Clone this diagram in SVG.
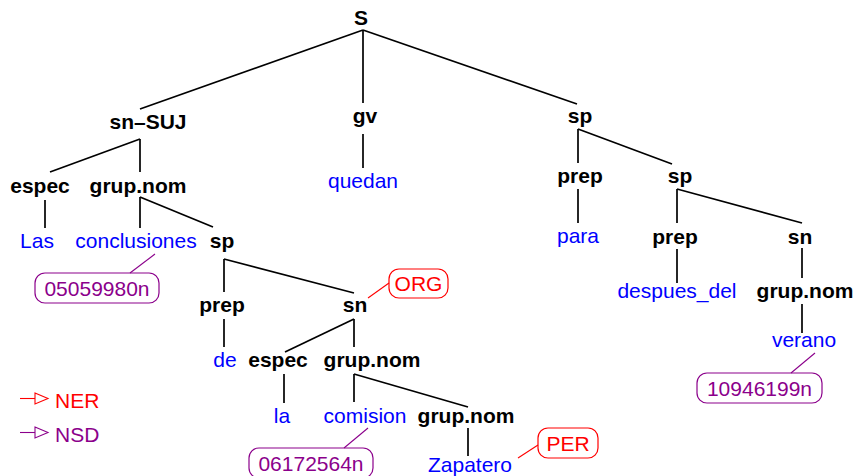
<svg xmlns="http://www.w3.org/2000/svg" width="856" height="476" viewBox="0 0 856 476">
<style>
text{font-family:"Liberation Sans",Arial,sans-serif;font-size:21px;text-anchor:middle}
.nt{font-weight:bold;fill:#000}
.w{fill:#0000ff}
.ner{fill:#ff0000}
.nsd{fill:#8b008b}
.tree line{stroke:#000;stroke-width:1.7}
.rl{stroke:#ff0000;stroke-width:1.1}
.pl{stroke:#8b008b;stroke-width:1.1}
.rb{fill:none;stroke:#ff0000;stroke-width:1.2}
.pb{fill:none;stroke:#8b008b;stroke-width:1.2}
</style>
<rect width="856" height="476" fill="#fff"/>
<g id="connectors">
<g class="tree">
<line x1="363" y1="30" x2="140" y2="109"/>
<line x1="363" y1="30" x2="363" y2="103"/>
<line x1="363" y1="30" x2="577" y2="104"/>
<line x1="140" y1="139" x2="50" y2="172"/>
<line x1="140" y1="139" x2="140" y2="172"/>
<line x1="363" y1="134" x2="363" y2="168"/>
<line x1="578" y1="129" x2="578" y2="163"/>
<line x1="578" y1="129" x2="672" y2="164"/>
<line x1="45" y1="200" x2="45" y2="228"/>
<line x1="140" y1="197" x2="140" y2="228"/>
<line x1="140" y1="197" x2="213" y2="227"/>
<line x1="578" y1="189" x2="578" y2="223"/>
<line x1="677" y1="189" x2="677" y2="223"/>
<line x1="677" y1="189" x2="802" y2="223"/>
<line x1="224" y1="259" x2="224" y2="292"/>
<line x1="224" y1="259" x2="354" y2="293"/>
<line x1="677" y1="249" x2="677" y2="283"/>
<line x1="802" y1="248" x2="802" y2="278"/>
<line x1="224" y1="319" x2="224" y2="347"/>
<line x1="354" y1="319" x2="285" y2="352"/>
<line x1="354" y1="319" x2="354" y2="347"/>
<line x1="802" y1="304" x2="802" y2="333"/>
<line x1="284" y1="374" x2="284" y2="403"/>
<line x1="354" y1="374" x2="354" y2="402"/>
<line x1="354" y1="374" x2="468" y2="407"/>
<line x1="468" y1="428" x2="468" y2="456"/>
</g>
<line class="pl" x1="155" y1="254" x2="130" y2="273"/>
<line class="rl" x1="368" y1="298" x2="389" y2="283"/>
<line class="pl" x1="368" y1="428" x2="344" y2="448"/>
<line class="pl" x1="815" y1="353" x2="791" y2="373"/>
<line class="rl" x1="518" y1="458" x2="538" y2="445"/>
</g>
<g id="n_S"><text class="nt" x="361" y="25">S</text></g>
<g id="n_snSUJ"><text class="nt" x="148" y="129">sn–SUJ</text></g>
<g id="n_gv"><text class="nt" x="365" y="123">gv</text></g>
<g id="n_sp1"><text class="nt" x="580" y="123">sp</text></g>
<g id="n_espec1"><text class="nt" x="40" y="193">espec</text></g>
<g id="n_grupnom1"><text class="nt" x="138" y="193">grup.nom</text></g>
<g id="n_quedan"><text class="w" x="363" y="188">quedan</text></g>
<g id="n_prep1"><text class="nt" x="580" y="183">prep</text></g>
<g id="n_sp2"><text class="nt" x="680" y="183">sp</text></g>
<g id="n_Las"><text class="w" x="37" y="248">Las</text></g>
<g id="n_conclusiones"><text class="w" x="136" y="248">conclusiones</text></g>
<g id="n_sp3"><text class="nt" x="222" y="248">sp</text></g>
<g id="n_para"><text class="w" x="578" y="243">para</text></g>
<g id="n_prep2"><text class="nt" x="675" y="244">prep</text></g>
<g id="n_sn1"><text class="nt" x="800" y="244">sn</text></g>
<g id="n_wn1"><rect class="pb" x="35" y="273" width="124" height="30" rx="10"/><text class="nsd" x="97" y="296">05059980n</text></g>
<g id="n_prep3"><text class="nt" x="222" y="312">prep</text></g>
<g id="n_sn2"><text class="nt" x="355" y="312">sn</text></g>
<g id="n_ORG"><rect class="rb" x="389" y="269" width="59" height="29" rx="10"/><text class="ner" x="418.5" y="291">ORG</text></g>
<g id="n_despues"><text class="w" x="677" y="298">despues_del</text></g>
<g id="n_grupnom2"><text class="nt" x="805" y="298">grup.nom</text></g>
<g id="n_verano"><text class="w" x="804" y="347">verano</text></g>
<g id="n_wn2"><rect class="pb" x="697" y="373" width="125" height="30" rx="10"/><text class="nsd" x="759.5" y="396">10946199n</text></g>
<g id="n_de"><text class="w" x="225" y="367">de</text></g>
<g id="n_espec2"><text class="nt" x="278" y="367">espec</text></g>
<g id="n_grupnom3"><text class="nt" x="372" y="367">grup.nom</text></g>
<g id="n_la"><text class="w" x="282" y="423">la</text></g>
<g id="n_comision"><text class="w" x="365" y="423">comision</text></g>
<g id="n_grupnom4"><text class="nt" x="466" y="423">grup.nom</text></g>
<g id="n_wn3"><rect class="pb" x="249" y="448" width="124" height="30" rx="10"/><text class="nsd" x="311" y="471">06172564n</text></g>
<g id="n_Zapatero"><text class="w" x="470" y="472">Zapatero</text></g>
<g id="n_PER"><rect class="rb" x="538" y="428" width="60" height="30" rx="10"/><text class="ner" x="568" y="451">PER</text></g>
<g id="legend">
<line class="rl" x1="20" y1="398.5" x2="35" y2="398.5"/>
<polygon points="35,393 48,398.5 35,404" fill="none" stroke="#ff0000" stroke-width="1.1"/>
<text class="ner" x="55" y="408" style="text-anchor:start">NER</text>
<line class="pl" x1="20" y1="432.5" x2="35" y2="432.5"/>
<polygon points="35,427 48,432.5 35,438" fill="none" stroke="#8b008b" stroke-width="1.1"/>
<text class="nsd" x="55" y="442" style="text-anchor:start">NSD</text>
</g>
</svg>
